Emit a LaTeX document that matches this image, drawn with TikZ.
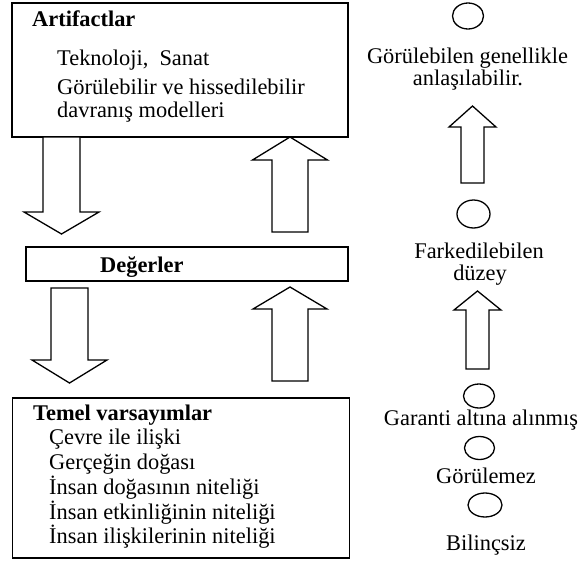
\documentclass[tikz,border=0pt]{standalone}
\usepackage{fontspec}
\setmainfont{Liberation Serif}
\usetikzlibrary{calc,shapes.geometric}

\tikzset{
  katman/.style={draw, line width=1.5pt, fill=white, inner sep=0pt},
  baslik/.style={font=\bfseries\fontsize{22.4}{26}\selectfont, anchor=base west, inner sep=0pt},
  satir/.style={font=\fontsize{22.4}{26}\selectfont, anchor=base west, inner sep=0pt},
  etiket/.style={font=\fontsize{22.4}{26}\selectfont, anchor=base, inner sep=0pt},
  halka/.style={draw, ellipse, line width=1.3pt, inner sep=0pt},
  blokcizgi/.style={draw, line width=1.3pt, fill=white, line join=miter},
}

% blok ok : baslangic, uc, govde yari genisligi, bas yari genisligi, bas boyu
\newcommand{\blokok}[5]{%
  \draw[blokcizgi] let \p1=(#1), \p2=(#2), \n2={\y2-sign(\y2-\y1)*#5} in
    ({\x1-#3},\y1) -- ({\x1-#3},{\n2*1pt}) -- ({\x1-#4},{\n2*1pt}) -- (\x1,\y2)
    -- ({\x1+#4},{\n2*1pt}) -- ({\x1+#3},{\n2*1pt}) -- ({\x1+#3},\y1) -- cycle;}

\begin{document}
\begin{tikzpicture}[x=1pt, y=-1pt]
        \useasboundingbox (0,0) rectangle (583,587);

        % Katman 1 : Artifactlar (ust)
        \node [katman, minimum width=336pt, minimum height=134pt] (art) at (180,70) {};
        \node [baslik] (artbas) at (32,26) {Artifactlar};
        \node [satir] (art1) at (57,65.5) {Teknoloji,\ \ Sanat};
        \node [satir] (art2) at (57,94) {Görülebilir ve hissedilebilir};
        \node [satir] (art3) at (57,117) {davranış modelleri};

        % Katman 2 : Degerler (orta)
        \node [katman, minimum width=322pt, minimum height=34pt] (deg) at (187,264) {};
        \node [baslik] (degbas) at (100,272) {Değerler};

        % Katman 3 : Temel varsayimlar (alt)
        \node [katman, minimum width=337pt, minimum height=160pt] (tem) at (181,478) {};
        \node [baslik] (tembas) at (33,420) {Temel varsayımlar};
        \node [satir] (tem1) at (49,444) {Çevre ile ilişki};
        \node [satir] (tem2) at (49,469) {Gerçeğin doğası};
        \node [satir] (tem3) at (49,494) {İnsan doğasının niteliği};
        \node [satir] (tem4) at (49,519) {İnsan etkinliğinin niteliği};
        \node [satir] (tem5) at (49,543) {İnsan ilişkilerinin niteliği};

        % Ok uclari
        \coordinate (a1s) at (61.5,137);  \coordinate (a1e) at (61.5,234);
        \coordinate (a2s) at (290,232);   \coordinate (a2e) at (290,137);
        \coordinate (a3s) at (69.5,288);  \coordinate (a3e) at (69.5,383);
        \coordinate (a4s) at (290,381);   \coordinate (a4e) at (290,287);

        % Bloklar arasi oklar
        \blokok{a1s}{a1e}{18.5pt}{37.5pt}{22pt}
        \blokok{a2s}{a2e}{18pt}{37.5pt}{23pt}
        \blokok{a3s}{a3e}{18.5pt}{37.5pt}{23pt}
        \blokok{a4s}{a4e}{18pt}{37pt}{22pt}

        % Sag sutun : duzeyler
        \node [halka, minimum width=31pt, minimum height=26pt] (h1) at (468,16) {};
        \node [etiket] (d1a) at (467.5,63) {Görülebilen genellikle};
        \node [etiket] (d1b) at (468,85) {anlaşılabilir.};

        \node [halka, minimum width=33pt, minimum height=28pt] (h2) at (473.5,214) {};
        \node [etiket] (d2a) at (479,258) {Farkedilebilen};
        \node [etiket] (d2b) at (480,280) {düzey};

        \node [halka, minimum width=31pt, minimum height=24pt] (h3) at (479,396) {};
        \node [etiket] (d3) at (481,425) {Garanti altına alınmış};
        \node [halka, minimum width=30pt, minimum height=23pt] (h4) at (479.5,448) {};
        \node [etiket] (d4) at (486,483) {Görülemez};
        \node [halka, minimum width=34pt, minimum height=24pt] (h5) at (485,505) {};
        \node [etiket] (d5) at (486,550) {Bilinçsiz};

        % Sag sutun oklari
        \coordinate (r1s) at (472.5,183);  \coordinate (r1e) at (472.5,106);
        \coordinate (r2s) at (477.5,369);  \coordinate (r2e) at (477.5,291);
        \blokok{r1s}{r1e}{11.5pt}{23.5pt}{21pt}
        \blokok{r2s}{r2e}{11.5pt}{23.5pt}{19pt}
\end{tikzpicture}
\end{document}
